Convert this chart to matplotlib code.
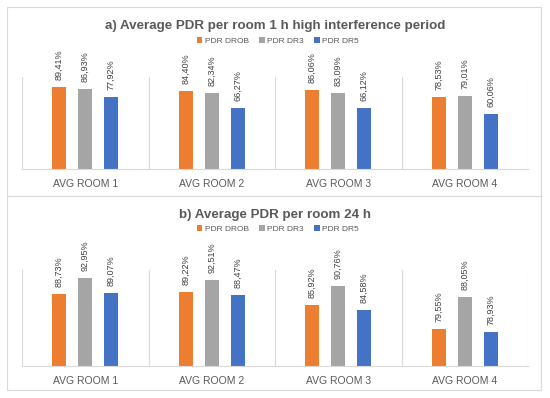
import numpy as np
import matplotlib
matplotlib.use("Agg")
import matplotlib.pyplot as plt
from matplotlib.patches import Rectangle

plt.rcParams['font.family'] = ['Liberation Sans', 'DejaVu Sans']

# data
rooms = ["AVG ROOM 1", "AVG ROOM 2", "AVG ROOM 3", "AVG ROOM 4"]
series = ["PDR DROB", "PDR DR3", "PDR DR5"]
colors = ["#ED7D31", "#A5A5A5", "#4472C4"]

pdr_1h = {
    "PDR DROB": [89.41, 84.40, 86.06, 78.53],
    "PDR DR3": [86.93, 82.34, 83.09, 79.01],
    "PDR DR5": [77.92, 66.27, 66.12, 60.06],
}
pdr_24h = {
    "PDR DROB": [88.73, 89.22, 85.92, 79.55],
    "PDR DR3": [92.95, 92.51, 90.76, 88.05],
    "PDR DR5": [89.07, 88.47, 84.58, 78.93],
}

W, H = 550, 398
fig = plt.figure(figsize=(W / 100, H / 100), dpi=100)

# panel frames
for top, bot in [(7, 196), (196, 390)]:
    fig.patches.append(Rectangle((7 / W, 1 - bot / H), 534 / W, (bot - top) / H,
                                 transform=fig.transFigure, fill=False,
                                 edgecolor="#d9d9d9", lw=0.8))


def draw_panel(rect, data, ylim, title, title_y, legend_y):
    ax = fig.add_axes(rect)
    x = np.arange(len(rooms))
    step, width = 0.205, 0.11
    handles = []
    for i, name in enumerate(series):
        vals = data[name]
        bars = ax.bar(x + (i - 1) * step, vals, width, color=colors[i], label=name)
        labels = [f"{v:.2f}%".replace(".", ",") for v in vals]
        ax.bar_label(bars, labels=labels, rotation=90, padding=5,
                     fontsize=6.5, color="#404040", clip_on=False)
        handles.append(bars)
    ax.set_xlim(-0.5, len(rooms) - 0.5)
    ax.set_ylim(*ylim)
    ax.set_xticks(x)
    ax.set_xticklabels(rooms, fontsize=7.5, color="#595959")
    ax.set_xticks(np.arange(-0.5, len(rooms)), minor=True)
    ax.tick_params(axis="x", which="both", length=0, pad=7)
    ax.grid(axis="x", which="minor", color="#d9d9d9", lw=0.8)
    ax.set_yticks([])
    for s in ["top", "right", "left"]:
        ax.spines[s].set_visible(False)
    ax.spines["bottom"].set_color("#d9d9d9")
    ax.spines["bottom"].set_linewidth(0.8)
    fig.text(0.5, title_y, title, ha="center", va="center", fontsize=9.6,
             fontweight="bold", color="#595959")
    fig.legend(handles=handles, labels=series, loc="center",
               bbox_to_anchor=(0.505, legend_y), ncol=3, frameon=False,
               fontsize=6, labelcolor="#595959", handlelength=0.7,
               handleheight=0.7, handletextpad=0.3, columnspacing=1.2)
    return ax


draw_panel([22 / W, 1 - 169 / H, 506 / W, 92 / H], pdr_1h, (0, 100),
           "a) Average PDR per room 1 h high interference period",
           1 - 26 / H, 1 - 41 / H)
draw_panel([22 / W, 1 - 366 / H, 506 / W, 96 / H], pdr_24h, (70, 95),
           "b) Average PDR per room 24 h",
           1 - 215 / H, 1 - 229 / H)

fig.savefig("out.png", dpi=100)
